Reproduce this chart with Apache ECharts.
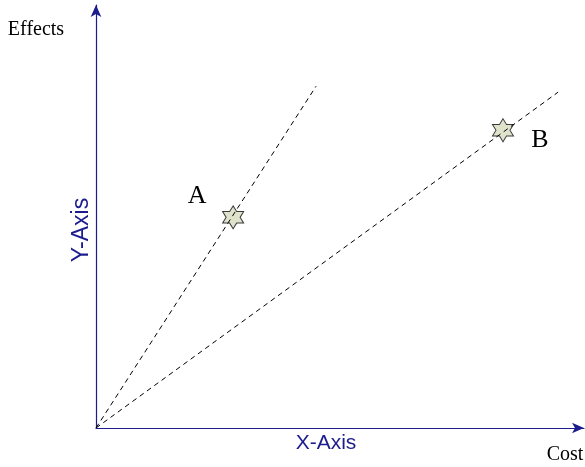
<!DOCTYPE html>
<html>
<head>
<meta charset="utf-8">
<script src="https://cdn.jsdelivr.net/npm/echarts@6/dist/echarts.min.js"></script>
<style>
  html, body { margin: 0; padding: 0; background: #fff; }
  #chart { width: 585px; height: 467px; }
</style>
</head>
<body>
<div id="chart"></div>
<script>
// dashed rays from the origin, end points
var lineA = [[0, 0], [45.1, 80.8]]
var lineB = [[0, 0], [94.7, 79.4]]
// star markers
var points = [
  { name: 'A', value: [28.1, 49.8] },
  { name: 'B', value: [83.4, 70.4] }
]
var xName = 'X-Axis'
var yName = 'Y-Axis'

var axisColor = '#1c1c8e'
var star = 'path://M100 0 L128.9 50 L186.6 50 L157.7 100 L186.6 150 L128.9 150 L100 200 L71.1 150 L13.4 150 L42.3 100 L13.4 50 L71.1 50 Z'
// label offsets relative to the marker box (20x22)
var labelPos = [[-25, -9], [48, 22]]

var myChart = echarts.init(document.getElementById('chart'))
myChart.setOption({
  animation: false,
  grid: { left: 96, right: 1, top: 5, bottom: 39 },
  xAxis: {
    type: 'value', min: 0, max: 100,
    axisLine: { onZero: false, symbol: ['none', 'arrow'], symbolSize: [8, 12], lineStyle: { color: axisColor, width: 1.2 } },
    axisTick: { show: false }, axisLabel: { show: false }, splitLine: { show: false }
  },
  yAxis: {
    type: 'value', min: 0, max: 100,
    axisLine: { onZero: false, symbol: ['none', 'arrow'], symbolSize: [8, 12], lineStyle: { color: axisColor, width: 1.2 } },
    axisTick: { show: false }, axisLabel: { show: false }, splitLine: { show: false }
  },
  series: [
    {
      type: 'line', data: lineA, symbol: 'none', silent: true,
      lineStyle: { color: '#000', width: 1, type: [5, 4] }
    },
    {
      type: 'line', data: lineB, symbol: 'none', silent: true,
      lineStyle: { color: '#000', width: 1, type: [5, 4] }
    },
    {
      type: 'scatter', symbol: star, symbolSize: [21, 23],
      data: points.map(function (p, i) {
        return {
          name: p.name, value: p.value,
          label: { position: labelPos[i] }
        }
      }),
      itemStyle: { color: '#dfe3cc', borderColor: '#3a3a3a', borderWidth: 1, opacity: 1 },
      label: {
        show: true, formatter: '{b}', color: '#000', fontSize: 26,
        fontFamily: 'Liberation Serif', align: 'center', verticalAlign: 'middle'
      }
    }
  ],
  graphic: [
    { type: 'text', x: 36, y: 30, style: { text: 'Effects', fontSize: 20, fontFamily: 'Liberation Serif', fill: '#000', align: 'center', verticalAlign: 'middle' } },
    { type: 'text', x: 565, y: 455, style: { text: 'Cost', fontSize: 20, fontFamily: 'Liberation Serif', fill: '#000', align: 'center', verticalAlign: 'middle' } },
    { type: 'text', x: 326, y: 443, style: { text: xName, fontSize: 21, fontFamily: 'Liberation Sans', fill: axisColor, align: 'center', verticalAlign: 'middle' } },
    { type: 'text', x: 82, y: 230, rotation: Math.PI / 2, style: { text: yName, fontSize: 23, fontFamily: 'Liberation Sans', fill: axisColor, align: 'center', verticalAlign: 'middle' } }
  ]
})
</script>
</body>
</html>
